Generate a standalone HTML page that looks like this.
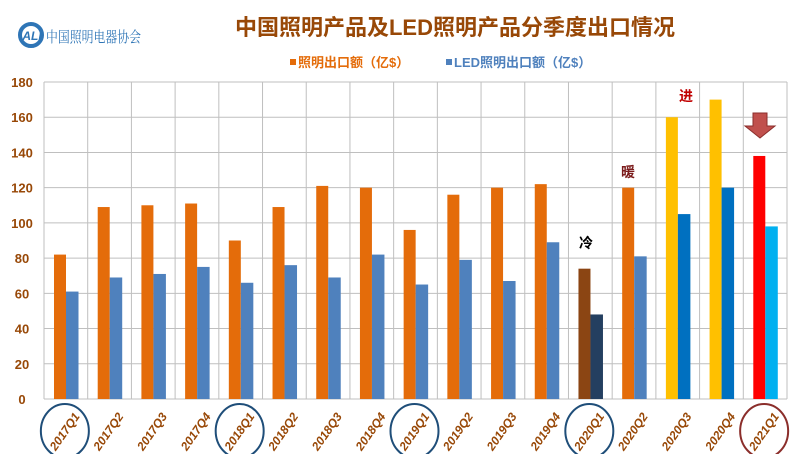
<!DOCTYPE html>
<html><head><meta charset="utf-8">
<style>
body{margin:0;background:#fff;width:800px;height:454px;overflow:hidden;font-family:"Liberation Sans","Noto Sans CJK SC",sans-serif}
</style></head><body>
<svg id="chart" width="800" height="454" xmlns="http://www.w3.org/2000/svg" font-family="Liberation Sans, Noto Sans CJK SC, sans-serif">
<g>
<circle cx="31" cy="35" r="11" fill="none" stroke="#2E75B6" stroke-width="4"/>
<text x="32" y="40" font-size="12" font-weight="bold" font-style="italic" fill="#2E75B6" text-anchor="middle">ALI</text>
<text x="46" y="42" font-size="15" fill="#2E75B6" textLength="95" lengthAdjust="spacingAndGlyphs" font-family="Noto Serif CJK SC, serif">中国照明电器协会</text>
</g>
<text x="455" y="35" font-size="22" font-weight="bold" fill="#984807" text-anchor="middle">中国照明产品及LED照明产品分季度出口情况</text>
<g>
<rect x="290" y="59" width="6" height="6" fill="#E46C0A"/>
<text x="298" y="67" font-size="13" fill="#E46C0A" font-weight="bold">照明出口额（亿$）</text>
<rect x="446" y="59" width="6" height="6" fill="#4F81BD"/>
<text x="454" y="67" font-size="13" fill="#4F81BD" font-weight="bold">LED照明出口额（亿$）</text>
</g>
<g id="grid"></g><g id="bars"></g><g id="labels"></g>
<text x="586" y="248" font-size="14" font-weight="bold" fill="#000" text-anchor="middle">冷</text>
<text x="628" y="177" font-size="14" font-weight="bold" fill="#7B1B1B" text-anchor="middle">暖</text>
<text x="686" y="101" font-size="14" font-weight="bold" fill="#C00000" text-anchor="middle">进</text>
<path d="M753 113 H767 V126 H775 L760 138 L745 126 H753 Z" fill="#C0504D" stroke="#8B2E2B" stroke-width="1"/>
</svg>
<script>
const categories=["2017Q1","2017Q2","2017Q3","2017Q4","2018Q1","2018Q2","2018Q3","2018Q4","2019Q1","2019Q2","2019Q3","2019Q4","2020Q1","2020Q2","2020Q3","2020Q4","2021Q1"];
const lighting=[82,109,110,111,90,109,121,120,96,116,120,122,74,120,160,170,138];
const led=[61,69,71,75,66,76,69,82,65,79,67,89,48,81,105,120,98];
const yTicks=[0,20,40,60,80,100,120,140,160,180];
const circled=[0,4,8,12,16];
const NS="http://www.w3.org/2000/svg";
const X0=44,X1=787,Y0=399,Y1=82,YMAX=180;
const bw=(X1-X0)/categories.length;
const y=v=>Y0-(v/YMAX)*(Y0-Y1);
const x=i=>X0+i*bw;
function mk(t,a,p){const e=document.createElementNS(NS,t);for(const k in a)e.setAttribute(k,a[k]);p.appendChild(e);return e;}
const g=document.getElementById('grid'),b=document.getElementById('bars'),l=document.getElementById('labels');
yTicks.forEach(t=>{
 const ln=mk('line',{x1:X0,x2:X1,y1:y(t),y2:y(t),stroke:'#BFBFBF','stroke-width':1},g);
 
 
 const tx=mk('text',{x:22,y:y(t)+5,'font-size':13,'font-weight':'bold','text-anchor':'middle',fill:'#984807'},g);
 tx.textContent=t;
 
 
});
for(let i=0;i<=categories.length;i++){
 const ln=mk('line',{x1:x(i),x2:x(i),y1:Y1,y2:Y0,stroke:'#BFBFBF','stroke-width':1},g);
 
 
}
function colors(i){
 if(i===12)return['#8B4513','#243F60'];
 if(i===14||i===15)return['#FFC000','#0070C0'];
 if(i===16)return['#FF0000','#00B0F0'];
 return['#E46C0A','#4F81BD'];
}
categories.forEach((c,i)=>{
 const [c1,c2]=colors(i);
 const r1=mk('rect',{x:x(i)+10,y:y(lighting[i]),width:12,height:Y0-y(lighting[i]),fill:c1},b);
 
 
 const r2=mk('rect',{x:x(i)+22,y:y(led[i]),width:12.5,height:Y0-y(led[i]),fill:c2},b);
 
 
 const cx=x(i)+bw/2-2,cy=431;
 const t=mk('text',{x:cx,y:cy+5,'font-size':12,'font-weight':'bold','font-style':'italic','text-anchor':'middle',fill:'#984807',transform:`rotate(-55 ${cx} ${cy})`},l);
 t.textContent=c;
 
 
 if(circled.includes(i)){
  const e=mk('ellipse',{cx:cx+1,cy:cy,rx:24,ry:27,fill:'none',stroke:i===16?'#8B2E2B':'#1F4E79','stroke-width':2},l);
  
  
 }
});
</script>
</body></html>
